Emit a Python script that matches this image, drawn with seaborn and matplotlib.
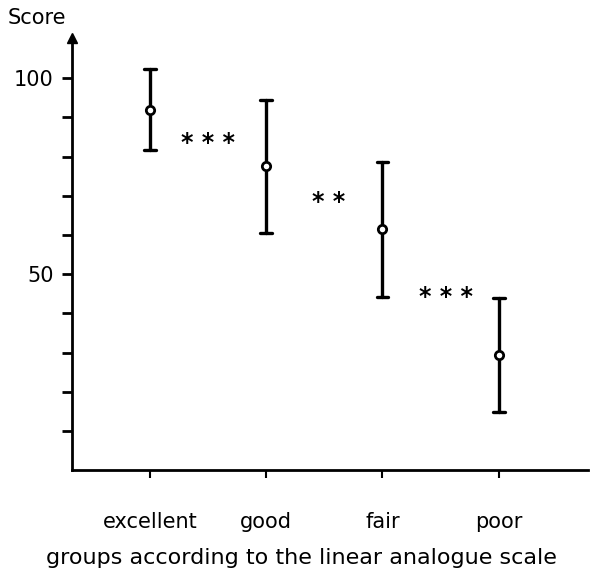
import matplotlib
matplotlib.use("Agg")
import matplotlib.pyplot as plt
import matplotlib.transforms as mtransforms
import seaborn as sns
import pandas as pd

# groups and their score summaries
groups = ["excellent", "good", "fair", "poor"]
means = [91.8, 77.6, 61.5, 29.3]
upper = [102.3, 94.4, 78.6, 43.9]
lower = [81.6, 60.5, 44.1, 14.8]

# significance marks between neighbouring groups
sig_x = [0.5, 1.54, 2.55]
sig_y = [84.2, 69.1, 44.9]
sig_text = ["* * *", "* *", "* * *"]

yticks = [10, 20, 30, 40, 50, 60, 70, 80, 90, 100]
ylabels = ["", "", "", "", "50", "", "", "", "", "100"]

# long table: low / mean / high per group; median + full range gives back the bars
rows = []
for g, lo, m, hi in zip(groups, lower, means, upper):
    for v in (lo, m, hi):
        rows.append({"group": g, "score": v})
df = pd.DataFrame(rows)

sns.set_style("ticks", rc={"text.color": "black", "axes.labelcolor": "black",
                           "xtick.color": "black", "ytick.color": "black",
                           "axes.edgecolor": "black"})
plt.rcParams["font.family"] = ["DejaVu Sans"]

fig = plt.figure(figsize=(5.9, 5.77), dpi=100)
ax = fig.add_axes([0.122, 0.185, 0.875, 0.749])

sns.pointplot(data=df, x="group", y="score", order=groups,
              estimator="median", errorbar=("pi", 100),
              linestyle="none", color="black", capsize=0.1,
              marker="o", markersize=6, markerfacecolor="white",
              markeredgewidth=2, err_kws={"linewidth": 2.4}, ax=ax)
for ln in ax.lines:
    if ln.get_marker() == "o":
        ln.set_zorder(5)

# push the asterisks down a little so the glyphs sit on the given level
star_tr = mtransforms.offset_copy(ax.transData, fig=fig, x=0, y=-2, units="points")
for x, y, t in zip(sig_x, sig_y, sig_text):
    ax.text(x, y, t, ha="center", va="center", fontsize=17, fontweight="bold",
            transform=star_tr)

ax.set_xlim(-0.67, 3.77)
ax.set_ylim(0, 110.2)
ax.set_yticks(yticks)
ax.set_yticklabels(ylabels, fontsize=15)
ax.tick_params(axis="y", length=7, width=2, pad=6)
ax.tick_params(axis="x", length=6, width=1.5, pad=24, labelsize=15)
ax.set_xlabel("groups according to the linear analogue scale", fontsize=16)
ax.xaxis.set_label_coords(0.445, -0.18)
ax.set_ylabel("")

for s in ("top", "right"):
    ax.spines[s].set_visible(False)
for s in ("left", "bottom"):
    ax.spines[s].set_linewidth(2)

# arrow head at the top of the y axis
ax.plot([0], [1], marker="^", color="black", markersize=7,
        transform=ax.transAxes, clip_on=False)

fig.text(0.013, 0.968, "Score", fontsize=15, va="center", ha="left")

fig.savefig("out.png", dpi=100, facecolor="white")
